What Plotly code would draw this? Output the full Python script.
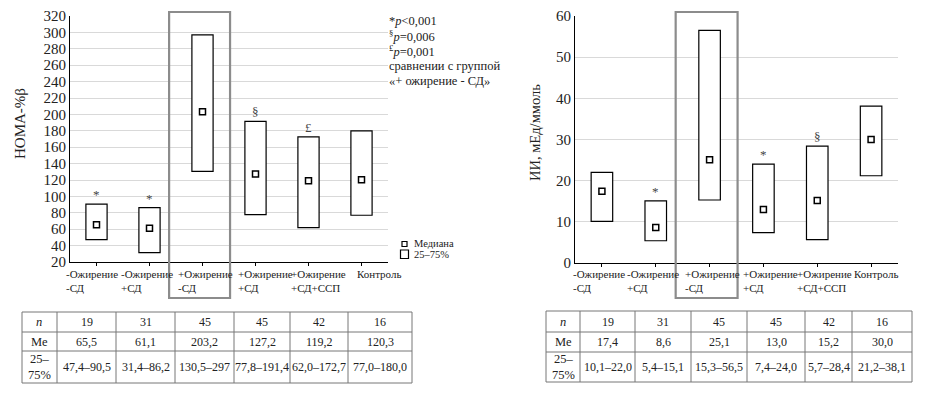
import plotly.graph_objects as go

W, H = 930, 396
OFF = 8  # page body margin
FW, FH = W - OFF, H - OFF

categories = ["-Ожирение<br>-СД", "-Ожирение<br>+СД", "+Ожирение<br>-СД",
              "+Ожирение<br>+СД", "+Ожирение<br>+СД+ССП", "Контроль"]

# Left panel: HOMA-%beta
homa_n = [19, 31, 45, 45, 42, 16]
homa_me = [65.5, 61.1, 203.2, 127.2, 119.2, 120.3]
homa_q1 = [47.4, 31.4, 130.5, 77.8, 62.0, 77.0]
homa_q3 = [90.5, 86.2, 297.0, 191.4, 172.7, 180.0]
homa_me_labels = ["65,5", "61,1", "203,2", "127,2", "119,2", "120,3"]
homa_iqr_labels = ["47,4–90,5", "31,4–86,2", "130,5–297", "77,8–191,4", "62,0–172,7", "77,0–180,0"]
homa_marks = ["*", "*", "", "§", "£", ""]

# Right panel: II
ii_n = [19, 31, 45, 45, 42, 16]
ii_me = [17.4, 8.6, 25.1, 13.0, 15.2, 30.0]
ii_q1 = [10.1, 5.4, 15.3, 7.4, 5.7, 21.2]
ii_q3 = [22.0, 15.1, 56.5, 24.0, 28.4, 38.1]
ii_me_labels = ["17,4", "8,6", "25,1", "13,0", "15,2", "30,0"]
ii_iqr_labels = ["10,1–22,0", "5,4–15,1", "15,3–56,5", "7,4–24,0", "5,7–28,4", "21,2–38,1"]
ii_marks = ["", "*", "", "*", "§", ""]

legend_labels = ["Медиана", "25–75%"]
y_titles = ["HOMA-%β", "ИИ, мЕд/ммоль"]

SERIF = "Liberation Serif"
xs = list(range(len(categories)))

# horizontal offsets of category labels (left edge relative to tick, px)
label_shift_left = [-33, -31, -27, -20, -20, -7]
label_shift_right = [-31, -31, -27, -22, -22, -19]

def px(v):
    return (v - OFF) / FW

def py(v):
    return 1 - (v - OFF) / FH

fig = go.Figure()

box_style = dict(color="white", line=dict(color="black", width=1.2))
med_style = dict(symbol="square-open", size=6, color="black", line=dict(width=1.5))

fig.add_trace(go.Bar(x=xs, y=[b - a for a, b in zip(homa_q1, homa_q3)], base=homa_q1,
                     width=0.4, marker=box_style, showlegend=False, xaxis="x", yaxis="y"))
fig.add_trace(go.Scatter(x=xs, y=homa_me, mode="markers", marker=med_style,
                         showlegend=False, xaxis="x", yaxis="y"))
fig.add_trace(go.Bar(x=xs, y=[b - a for a, b in zip(ii_q1, ii_q3)], base=ii_q1,
                     width=0.4, marker=box_style, showlegend=False, xaxis="x2", yaxis="y2"))
fig.add_trace(go.Scatter(x=xs, y=ii_me, mode="markers", marker=med_style,
                         showlegend=False, xaxis="x2", yaxis="y2"))

ann = []
shapes = []

# significance marks
for i, m in enumerate(homa_marks):
    if m:
        ann.append(dict(x=i, y=homa_q3[i], xref="x", yref="y", text=m, showarrow=False,
                        yanchor="bottom", yshift=0, font=dict(family=SERIF, size=13, color="#444")))
for i, m in enumerate(ii_marks):
    if m:
        ann.append(dict(x=i, y=ii_q3[i], xref="x2", yref="y2", text=m, showarrow=False,
                        yanchor="bottom", yshift=0, font=dict(family=SERIF, size=13, color="#444")))

# category labels
for xr, shifts in [("x", label_shift_left), ("x2", label_shift_right)]:
    for i, c in enumerate(categories):
        ann.append(dict(x=i, y=py(266), xref=xr, yref="paper", text=c, showarrow=False,
                        xanchor="left", yanchor="top", align="left", xshift=shifts[i],
                        font=dict(family=SERIF, size=11, color="#222")))

# y-axis titles
ann.append(dict(x=px(20), y=py(124), xref="paper", yref="paper", text=y_titles[0],
                textangle=-90, showarrow=False, xanchor="center", yanchor="middle",
                font=dict(family=SERIF, size=15, color="#222")))
ann.append(dict(x=px(535), y=py(133), xref="paper", yref="paper", text=y_titles[1],
                textangle=-90, showarrow=False, xanchor="center", yanchor="middle",
                font=dict(family=SERIF, size=14.5, color="#222")))

# highlight rectangles around third group
for xr in ["x", "x2"]:
    shapes.append(dict(type="rect", xref=xr, yref="paper", x0=1.37, x1=2.52,
                       y0=py(298), y1=py(12), line=dict(color="#8c8c8c", width=2.2),
                       fillcolor="rgba(0,0,0,0)", layer="above"))

# footnote text
notes = ["*<i>p</i>&lt;0,001", "<sup>§</sup><i>p</i>=0,006", "<sup>£</sup><i>p</i>=0,001",
         "сравнении с группой", "«+ ожирение - СД»"]
for k, t in enumerate(notes):
    ann.append(dict(x=px(387), y=py(21 + 15 * k), xref="paper", yref="paper", text=t,
                    showarrow=False, xanchor="left", yanchor="middle",
                    font=dict(family=SERIF, size=12.5, color="#222")))

# manual legend
shapes.append(dict(type="rect", xref="paper", yref="paper", x0=px(402), x1=px(407),
                   y0=py(246.5), y1=py(241.5), line=dict(color="black", width=1.2)))
shapes.append(dict(type="rect", xref="paper", yref="paper", x0=px(400.5), x1=px(408.5),
                   y0=py(258.5), y1=py(250), line=dict(color="black", width=1.2)))
for k, t in enumerate(legend_labels):
    ann.append(dict(x=px(412), y=py(244 + 10.5 * k), xref="paper", yref="paper", text=t,
                    showarrow=False, xanchor="left", yanchor="middle",
                    font=dict(family=SERIF, size=10.5, color="#222")))

# tables
def add_table(cols, rows, n_vals, me_labels, iqr_labels):
    x0, x1 = cols[0], cols[-1]
    for yv in rows:
        shapes.append(dict(type="line", xref="paper", yref="paper", x0=px(x0), x1=px(x1),
                           y0=py(yv), y1=py(yv), line=dict(color="#777", width=1)))
    for xv in cols:
        shapes.append(dict(type="line", xref="paper", yref="paper", x0=px(xv), x1=px(xv),
                           y0=py(rows[0]), y1=py(rows[-1]), line=dict(color="#777", width=1)))
    heads = ["<i>n</i>", "Me", "25–<br>75%"]
    for r in range(3):
        yc = (rows[r] + rows[r + 1]) / 2
        ann.append(dict(x=px((cols[0] + cols[1]) / 2), y=py(yc), xref="paper", yref="paper",
                        text=heads[r], showarrow=False, xanchor="center", yanchor="middle",
                        align="center", font=dict(family=SERIF, size=12.5, color="#222")))
        vals = [str(v) for v in n_vals] if r == 0 else (me_labels if r == 1 else iqr_labels)
        for j, v in enumerate(vals):
            ann.append(dict(x=px((cols[j + 1] + cols[j + 2]) / 2), y=py(yc), xref="paper", yref="paper",
                            text=v, showarrow=False, xanchor="center", yanchor="middle",
                            font=dict(family=SERIF, size=12, color="#222")))

add_table([22, 57, 116, 175, 234, 290, 348, 412], [312, 332, 351, 383],
          homa_n, homa_me_labels, homa_iqr_labels)
add_table([546, 580, 635, 691, 747, 805, 852, 912], [311, 332, 352, 382],
          ii_n, ii_me_labels, ii_iqr_labels)

axis_common = dict(showline=True, linecolor="black", linewidth=1, zeroline=False, automargin=False)
fig.update_layout(
    template="none",
    width=FW, height=FH, margin=dict(l=0, r=0, t=0, b=0, pad=0, autoexpand=False),
    paper_bgcolor="white", plot_bgcolor="white",
    font=dict(family=SERIF, color="black"),
    showlegend=False,
    xaxis=dict(domain=[px(70), px(388)], range=[-0.5, 5.5], tickvals=xs, showticklabels=False,
               ticks="outside", ticklen=3, tickcolor="black", showgrid=False, **axis_common),
    yaxis=dict(domain=[py(262), py(16)], range=[20, 320], dtick=20, showgrid=True,
               gridcolor="#d9d9d9", gridwidth=1, ticks="",
               tickfont=dict(family=SERIF, size=15, color="#222"), **axis_common),
    xaxis2=dict(domain=[px(575), px(898)], range=[-0.5, 5.5], tickvals=xs, showticklabels=False,
                ticks="outside", ticklen=3, tickcolor="black", showgrid=False, anchor="y2", **axis_common),
    yaxis2=dict(domain=[py(263), py(16)], range=[0, 60], dtick=10, showgrid=True,
                gridcolor="#d9d9d9", gridwidth=1, ticks="", anchor="x2",
                tickfont=dict(family=SERIF, size=15, color="#222"), **axis_common),
    annotations=ann, shapes=shapes,
)

fig.write_html("out.html")
